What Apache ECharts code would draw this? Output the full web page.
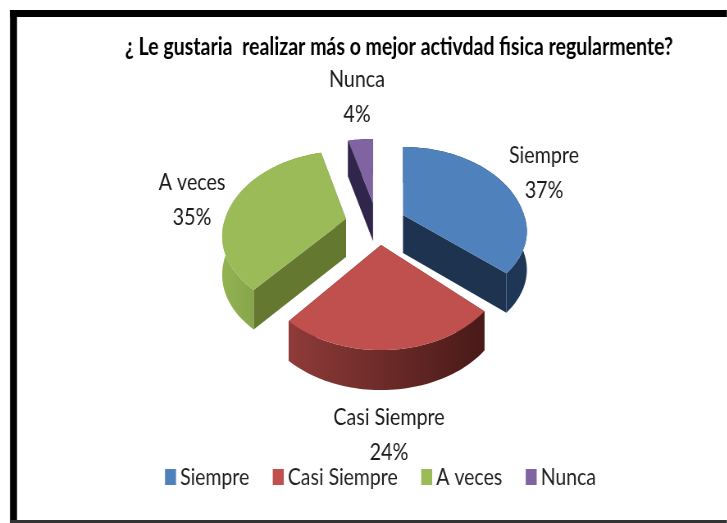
<!DOCTYPE html>
<html><head><meta charset="utf-8">
<style>html,body{margin:0;padding:0;background:#fff;overflow:hidden;width:727px;height:523px}
#c{height:523px;transform-origin:0 0}</style>
<script src="https://cdn.jsdelivr.net/npm/echarts@6/dist/echarts.min.js"></script>
</head><body><div id="c"></div>
<script>
const categories = ['Siempre', 'Casi Siempre', 'A veces', 'Nunca'];
const percents = [37, 24, 35, 4];
const titleText = '¿ Le gustaria  realizar más o mejor activdad fisica regularmente?';

// The reference is a horizontally squeezed picture: the chart is laid out wider and squeezed by SX.
const SX = 0.82;
const el = document.getElementById('c');
el.style.width = (727 / SX) + 'px';
el.style.transform = 'scaleX(' + SX + ')';
const ux = v => v / SX;

const FONT = 'Lato,"Liberation Sans",sans-serif';
const topColors = ['#4f81bd', '#c0504d', '#9bbb59', '#8064a2'];
const cutColors = ['#1d3350', '#5a2220', '#64782f', '#30254a'];
const arcStops = [['#1d3350', '#1f3757'], ['#8f3b39', '#481a18'], ['#93b352', '#6d8739'], ['#30254a', '#30254a']];
// slice explosion offset from pie centre, label anchors, draw order
const explode = [[28, 7], [6, 37], [-29, 11], [-2, -5]];
const yScale = [[1, .88], [1, 1], [1, .93], [.94, 1]];
const labelAt = [[544, 173], [389, 435], [192, 200], [357, 97]];
const stack = [3, 4, 2, 1];
const cx = 375, cy = 208, RX = 121, RY = 82.6, K = 0.214, DEPTH = 38, DEPTH_VAR = 2;

const total = percents.reduce((a, b) => a + b, 0);
function proj(i, deg, r, o) {
  const t = deg * Math.PI / 180, X = Math.sin(t) * r, Z = -Math.cos(t) * r, p = 1 / (1 - K * Z);
  const ys = yScale[i][Z > 0 ? 1 : 0];
  return { x: ux(cx + o[0] + RX * X * p), y: cy + o[1] + RY * Z * p * ys, d: DEPTH + DEPTH_VAR * Z };
}
const startOf = i => percents.slice(0, i).reduce((a, b) => a + b, 0) / total * 360;

function renderSlice(i, api) {
  const a0 = startOf(i), a1 = a0 + api.value(0) / total * 360, o = explode[i];
  const apex = proj(i, 0, 0, o), arc = [];
  const n = Math.max(8, Math.ceil((a1 - a0) / 1.5));
  for (let k = 0; k <= n; k++) arc.push(proj(i, a0 + (a1 - a0) * k / n, 1, o));
  const up = p => [p.x, p.y], down = p => [p.x, p.y + p.d];
  const wall = e => ({ type: 'polygon', shape: { points: [up(apex), up(e), down(e), [apex.x, apex.y + DEPTH]] }, style: { fill: cutColors[i] }, silent: true });
  const xs = arc.map(p => p.x), minX = Math.min(...xs), maxX = Math.max(...xs);
  const outer = {
    type: 'polygon',
    shape: { points: arc.map(up).concat(arc.slice().reverse().map(down)) },
    style: { fill: { type: 'linear', x: minX, y: 0, x2: maxX, y2: 0, global: true,
      colorStops: [{ offset: 0, color: arcStops[i][0] }, { offset: 1, color: arcStops[i][1] }] } },
    silent: true
  };
  const top = { type: 'polygon', shape: { points: [up(apex)].concat(arc.map(up)) }, style: { fill: topColors[i] }, silent: true };
  const label = { type: 'text', silent: true, style: {
    text: categories[i] + '\n' + api.value(0) + '%', x: ux(labelAt[i][0]), y: labelAt[i][1],
    align: 'center', verticalAlign: 'middle', lineHeight: 35, fontFamily: FONT, fontSize: 24, fill: '#1a1a1a' } };
  return { type: 'group', children: [wall(arc[0]), wall(arc[n]), outer, top, label] };
}

const chart = echarts.init(el, null, { renderer: 'canvas' });
chart.setOption({
  animation: false,
  backgroundColor: '#fff',
  title: { text: titleText, left: ux(125), top: 35, padding: 0, textStyle: { fontFamily: FONT, fontWeight: 'bold', fontSize: 23.8, color: '#000' } },
  legend: {
    data: categories, left: ux(165), top: 465, padding: 0, icon: 'rect', itemWidth: ux(11), itemHeight: 16, itemGap: ux(23.5), selectedMode: false,
    textStyle: { fontFamily: FONT, fontSize: 23.7, color: '#222' }
  },
  graphic: [
    { type: 'rect', shape: { x: ux(10), y: 10, width: ux(717), height: 7 }, style: { fill: '#000' }, silent: true },
    { type: 'rect', shape: { x: ux(10), y: 10, width: ux(7), height: 513 }, style: { fill: '#000' }, silent: true },
    { type: 'rect', shape: { x: ux(10), y: 520, width: ux(717), height: 3 }, style: { fill: '#333' }, silent: true }
  ],
  series: categories.map((name, i) => ({
    type: 'custom', name, coordinateSystem: 'none', z: stack[i], silent: true,
    itemStyle: { color: topColors[i] },
    data: [[percents[i]]],
    renderItem: (params, api) => renderSlice(i, api)
  }))
});
</script></body></html>
